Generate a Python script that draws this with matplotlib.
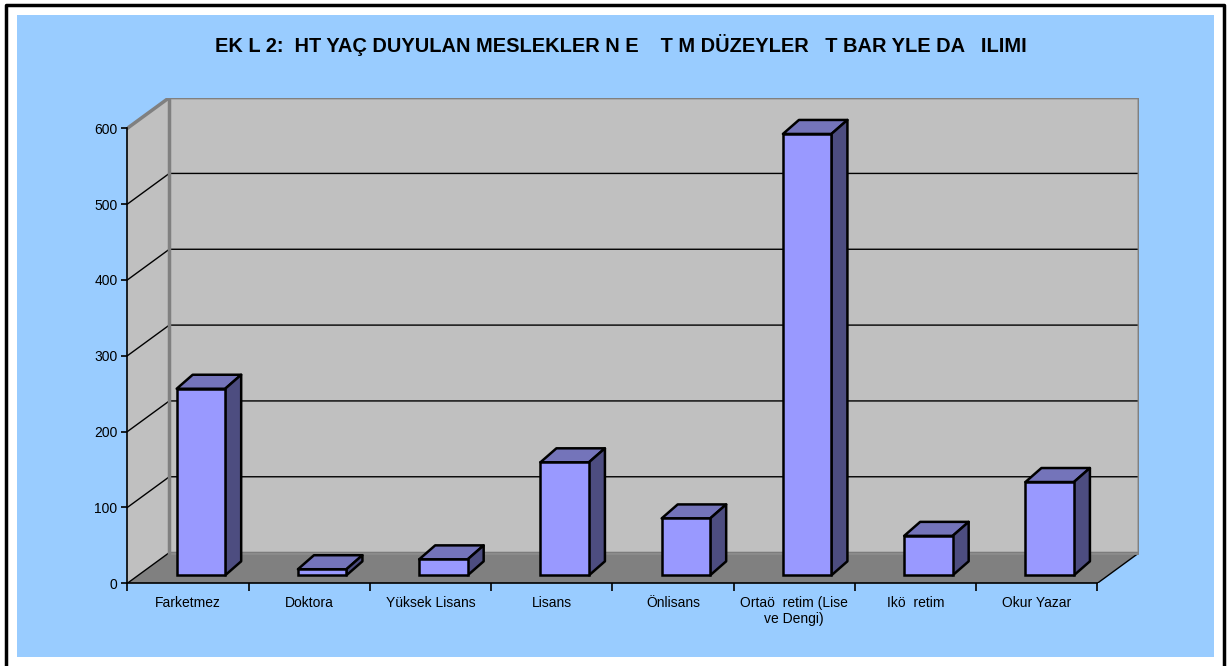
import matplotlib
matplotlib.use('Agg')
import matplotlib.pyplot as plt
from matplotlib.patches import Polygon, Rectangle
import numpy as np

plt.rcParams['font.family'] = ['Liberation Sans', 'DejaVu Sans']

title = 'EK L 2:  HT YAÇ DUYULAN MESLEKLER N E    T M DÜZEYLER   T BAR YLE DA   ILIMI'
categories = ['Farketmez', 'Doktora', 'Yüksek Lisans', 'Lisans', 'Önlisans',
              'Ortaö  retim (Lise\nve Dengi)', 'Ikö  retim', 'Okur Yazar']
values = [246, 8, 21, 149, 75, 582, 52, 123]
yticks = [0, 100, 200, 300, 400, 500, 600]

# pixel scale of the reference (category unit / value unit)
px_x = 121.25
px_y = 455 / 600
# oblique depth of the walls, and of the bars
wall_dx, wall_dy = 42 / px_x, 30.7 / px_y
bar_off_x, bar_off_y = 13 / px_x, 8 / px_y
bar_dx, bar_dy = 16 / px_x, 14 / px_y
bar_w = 0.40

front_col = '#9999FF'
top_col = '#7474BA'
side_col = '#4D4D80'

W, H = 1228, 666
fig = plt.figure(figsize=(W / 100, H / 100), dpi=100)
fig.patch.set_facecolor('white')

# light blue chart area + black frame
fig.patches.append(Rectangle((17 / W, (H - 657) / H), (1214 - 17) / W, (657 - 15) / H,
                             transform=fig.transFigure, facecolor='#99CCFF',
                             edgecolor='none', zorder=-5))
fig.add_artist(plt.Line2D([6 / W, 6 / W, 1224 / W, 1224 / W], [0, 1 - 5 / H, 1 - 5 / H, 0],
                          color='black', lw=2.5, transform=fig.transFigure, zorder=-4))

xmax = 8 + wall_dx
ymax = 600 + wall_dy
left_px, base_px = 127.3, 583.3
ax = fig.add_axes([left_px / W, (H - base_px) / H, xmax * px_x / W, ymax * px_y / H])
ax.set_xlim(0, xmax)
ax.set_ylim(0, ymax)
ax.patch.set_visible(False)

n = len(categories)

# walls and floor
ax.add_patch(Polygon([(0, 0), (0, 600), (wall_dx, ymax), (wall_dx, wall_dy)],
                     facecolor='#C0C0C0', edgecolor='none', zorder=1))
ax.add_patch(Rectangle((wall_dx, wall_dy), n, 600, facecolor='#C0C0C0',
                       edgecolor='none', zorder=1))
ax.add_patch(Polygon([(0, 0), (n, 0), (xmax, wall_dy), (wall_dx, wall_dy)],
                     facecolor='#808080', edgecolor='none', zorder=1))

# gridlines on the walls
for v in yticks[:-1]:
    ax.plot([0, wall_dx, xmax], [v, v + wall_dy, v + wall_dy], color='black', lw=1, zorder=2)
ax.plot([n, xmax], [0, wall_dy], color='black', lw=1, zorder=2)
# wall edges
ax.plot([0, wall_dx, xmax, xmax], [600, ymax, ymax, wall_dy], color='#808080', lw=2.5, zorder=3,
        solid_joinstyle='miter')
ax.plot([wall_dx, wall_dx], [wall_dy, ymax], color='#808080', lw=2.5, zorder=3)
ax.plot([wall_dx, xmax], [wall_dy, wall_dy], color='#8C8C8C', lw=2, zorder=2)

# bars
x = np.arange(n) + 0.5 + bar_off_x
bars = ax.bar(x, values, bar_w, bottom=bar_off_y, color=front_col, edgecolor='black',
              linewidth=1.8, zorder=5)
for r in bars.patches:
    x0, y0 = r.get_x(), r.get_y()
    x1, y1 = x0 + r.get_width(), y0 + r.get_height()
    ax.add_patch(Polygon([(x0, y1), (x0 + bar_dx, y1 + bar_dy), (x1 + bar_dx, y1 + bar_dy), (x1, y1)],
                         facecolor=top_col, edgecolor='black', lw=1.8, zorder=4, joinstyle='round'))
    ax.add_patch(Polygon([(x1, y0), (x1, y1), (x1 + bar_dx, y1 + bar_dy), (x1 + bar_dx, y0 + bar_dy)],
                         facecolor=side_col, edgecolor='black', lw=1.8, zorder=4, joinstyle='round'))

# axes
for s in ['top', 'right']:
    ax.spines[s].set_visible(False)
ax.spines['left'].set_bounds(0, 600)
ax.spines['bottom'].set_bounds(0, n)
for s in ['left', 'bottom']:
    ax.spines[s].set_linewidth(1.2)
    ax.spines[s].set_zorder(6)
ax.set_yticks(yticks)
ax.tick_params(axis='y', direction='out', length=4, width=1.2, pad=3, labelsize=10)
ax.set_xticks(np.arange(n + 1))
ax.set_xticklabels([])
ax.tick_params(axis='x', which='major', direction='out', length=5.5, width=1.2)
ax.set_xticks(np.arange(n) + 0.5, minor=True)
ax.set_xticklabels(categories, minor=True, fontsize=10)
ax.tick_params(axis='x', which='minor', length=0, pad=9)

fig.text(620.5 / W, 1 - 44.5 / H, title, ha='center', va='center', fontsize=14.4, fontweight='bold')

fig.savefig('out.png', dpi=100)
